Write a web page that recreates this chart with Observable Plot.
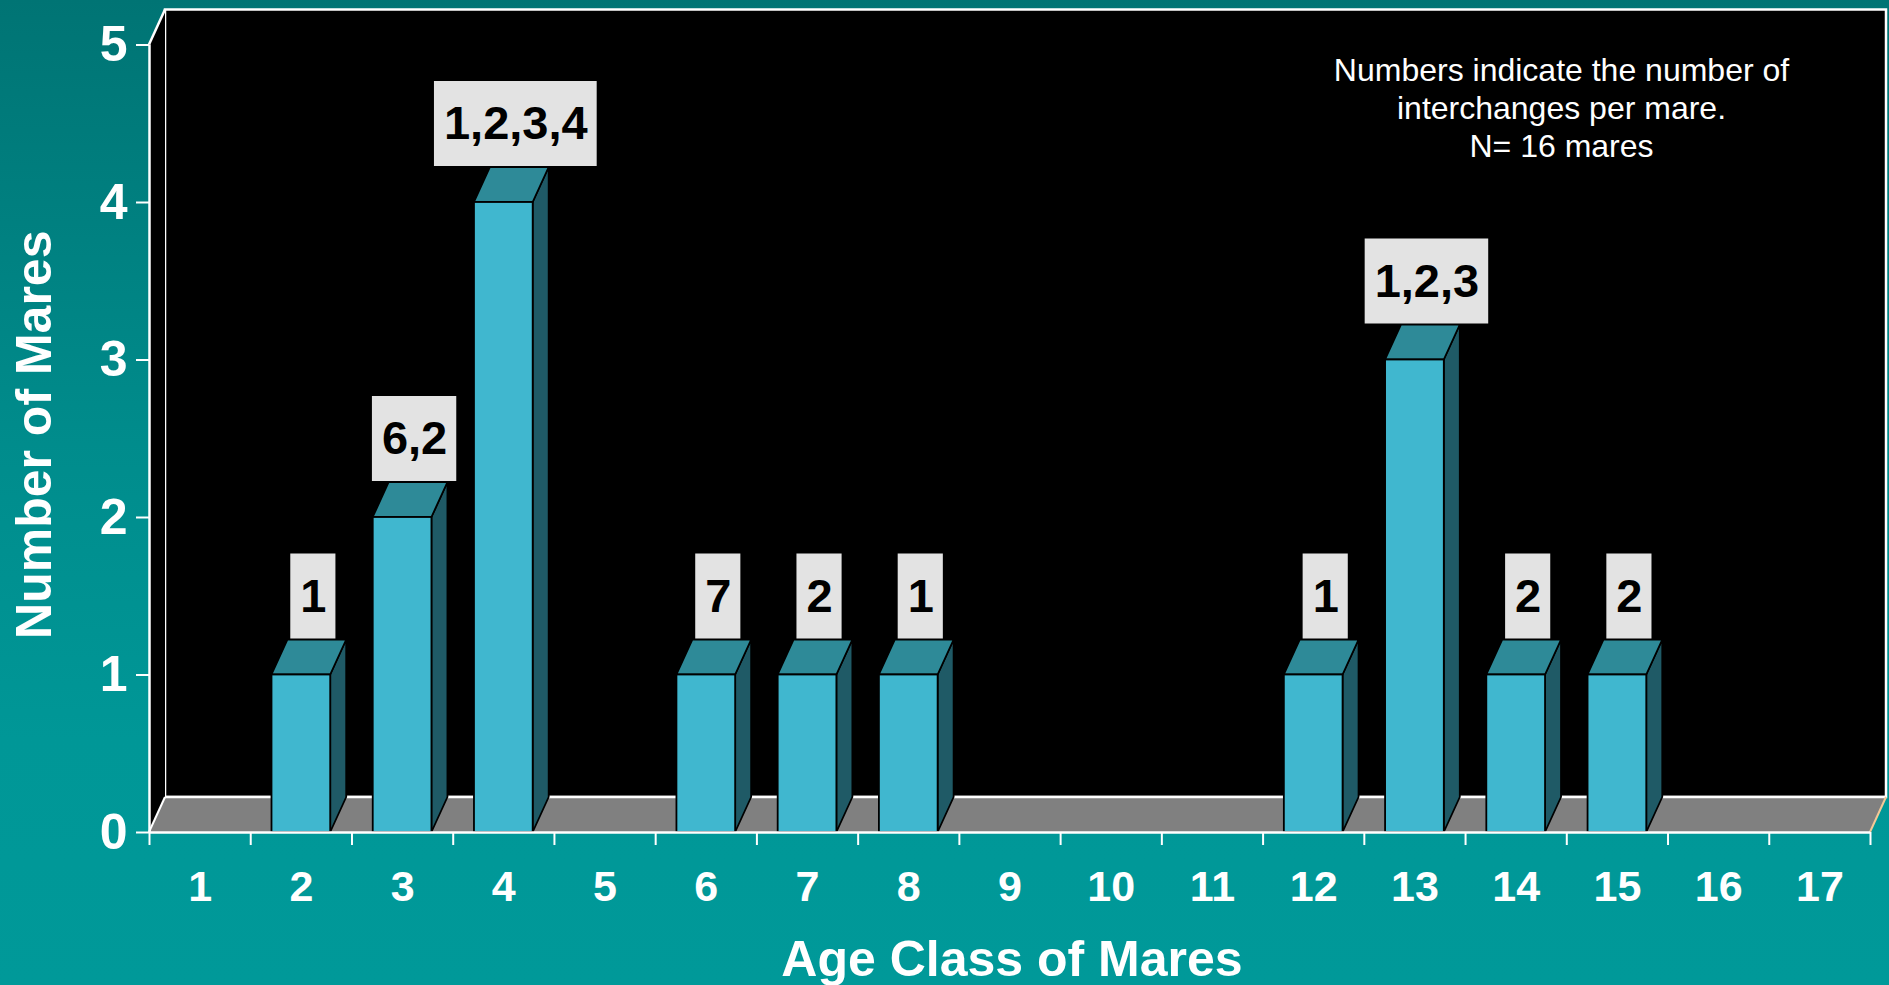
<!DOCTYPE html>
<html><head><meta charset="utf-8">
<script src="https://cdn.jsdelivr.net/npm/d3@7"></script>
<script src="https://cdn.jsdelivr.net/npm/@observablehq/plot@0.6"></script>
<style>
html,body{margin:0;padding:0;width:1889px;height:985px;overflow:hidden;
background:linear-gradient(#007474 0%, #008c8c 45%, #009797 75%, #009999 100%);}
#chart svg{display:block}
</style></head><body><div id="chart"></div>
<script>
// ---- data ----
const ageClasses = [1,2,3,4,5,6,7,8,9,10,11,12,13,14,15,16,17];
const barAges = [2,3,4,6,7,8,12,13,14,15];
const mareCounts = [1,2,4,1,1,1,1,3,1,1];
const interchangeLabels = ["1","6,2","1,2,3,4","7","2","1","1","1,2,3","2","2"];
const countTicks = [0,1,2,3,4,5];
const xTitle = "Age Class of Mares";
const yTitle = "Number of Mares";
const noteLines = ["Numbers indicate the number of","interchanges per mare.","N= 16 mares"];

// ---- style ----
const DX = 16, DY = -35, BAR = 0.58, LABEL_DX = 12;
const FONT = "'Liberation Sans', Arial, Helvetica, sans-serif";
const C = {front:"#40B7CF", side:"#1F5A66", top:"#2E8A98", floor:"#808080", box:"#E3E3E3"};

const bars = barAges.map((age, i) => ({age, count: mareCounts[i], label: interchangeLabels[i]}));
const edges = ageClasses.map(a => a - 0.5).concat([ageClasses[ageClasses.length - 1] + 0.5]);
const xDomain = [edges[0], edges[edges.length - 1]];
const yDomain = [countTicks[0], countTicks[countTicks.length - 1]];

const measure = document.createElement("canvas").getContext("2d");
measure.font = `bold 47px ${FONT}`;

const pts = a => a.map(p => p.join(",")).join(" ");

function room(index, scales) {
  const x = scales.x, y = scales.y;
  const xl = x(xDomain[0]), xr = x(xDomain[1]), yb = y(yDomain[0]), yt = y(yDomain[1]);
  const g = d3.create("svg:g");
  g.append("rect").attr("x", xl + DX).attr("y", yt + DY).attr("width", xr - xl).attr("height", yb - yt)
    .attr("fill", "#000").attr("stroke", "#fff").attr("stroke-width", 2.5);
  g.append("polygon").attr("points", pts([[xl, yt], [xl + DX, yt + DY], [xl + DX, yb + DY], [xl, yb]]))
    .attr("fill", "#000");
  g.append("line").attr("x1", xl).attr("y1", yt).attr("x2", xl + DX).attr("y2", yt + DY)
    .attr("stroke", "#fff").attr("stroke-width", 2.5);
  g.append("polygon").attr("points", pts([[xl, yb], [xr, yb], [xr + DX, yb + DY], [xl + DX, yb + DY]]))
    .attr("fill", C.floor);
  g.append("line").attr("x1", xl + DX).attr("y1", yb + DY).attr("x2", xr + DX).attr("y2", yb + DY)
    .attr("stroke", "#fff").attr("stroke-width", 2.5);
  g.append("line").attr("x1", xl).attr("y1", yb).attr("x2", xl + DX).attr("y2", yb + DY)
    .attr("stroke", "#fff").attr("stroke-width", 2);
  g.append("line").attr("x1", xr).attr("y1", yb).attr("x2", xr + DX).attr("y2", yb + DY)
    .attr("stroke", "#F5C896").attr("stroke-width", 2);
  return g.node();
}

function barDepth(index, scales) {
  const x = scales.x, y = scales.y;
  const g = d3.create("svg:g").attr("stroke", "#000").attr("stroke-width", 1.8).attr("stroke-linejoin", "round");
  for (const d of bars) {
    const x0 = x(d.age - BAR / 2), x1 = x(d.age + BAR / 2), y0 = y(0), y1 = y(d.count);
    g.append("polygon").attr("fill", C.side)
      .attr("points", pts([[x1, y0], [x1 + DX, y0 + DY], [x1 + DX, y1 + DY], [x1, y1]]));
    g.append("polygon").attr("fill", C.top)
      .attr("points", pts([[x0, y1], [x1, y1], [x1 + DX, y1 + DY], [x0 + DX, y1 + DY]]));
  }
  return g.node();
}

function labelBoxes(index, scales) {
  const x = scales.x, y = scales.y;
  const g = d3.create("svg:g");
  for (const d of bars) {
    const w = measure.measureText(d.label).width + 19, h = 85;
    const cx = x(d.age) + LABEL_DX, cy = y(d.count) - 78.5;
    g.append("rect").attr("x", cx - w / 2).attr("y", cy - h / 2).attr("width", w).attr("height", h)
      .attr("fill", C.box);
  }
  return g.node();
}

const chart = Plot.plot({
  width: 1889, height: 985,
  marginLeft: 149, marginRight: 19, marginTop: 44.5, marginBottom: 153,
  x: {type: "linear", domain: xDomain},
  y: {type: "linear", domain: yDomain},
  style: {background: "transparent", color: "white", fontFamily: FONT, overflow: "visible"},
  marks: [
    room,
    barDepth,
    Plot.rect(bars, {x1: d => d.age - BAR / 2, x2: d => d.age + BAR / 2, y1: 0, y2: "count",
      fill: C.front, stroke: "#000", strokeWidth: 1.8}),
    labelBoxes,
    Plot.text(bars, {x: "age", y: "count", text: "label", dx: LABEL_DX, dy: -78.5,
      fontSize: 47, fontWeight: "bold", fill: "#000", lineAnchor: "middle"}),
    Plot.ruleY([yDomain[0]], {stroke: "white", strokeWidth: 2.5}),
    Plot.ruleX([xDomain[0]], {stroke: "white", strokeWidth: 2.5}),
    Plot.axisY({ticks: countTicks, tickSize: 13, tickPadding: 9, strokeWidth: 2,
      fontSize: 50, fontWeight: "bold", label: null, tickFormat: d => String(d)}),
    Plot.axisX({ticks: edges, tickSize: 13, strokeWidth: 2, tickFormat: () => "", label: null}),
    Plot.axisX({ticks: ageClasses, tickSize: 0, tickPadding: 38, fontSize: 43, fontWeight: "bold",
      label: null, tickFormat: d => String(d)}),
    Plot.text([yTitle], {frameAnchor: "left", dx: -115, dy: -4, rotate: -90, fontSize: 50,
      fontWeight: "bold", fill: "white", lineAnchor: "middle", textAnchor: "middle"}),
    Plot.text([xTitle], {frameAnchor: "bottom", dx: 2, dy: 127, fontSize: 50,
      fontWeight: "bold", fill: "white", lineAnchor: "middle", textAnchor: "middle"}),
    Plot.text([noteLines.join("\n")], {frameAnchor: "top", dx: 551.5, dy: 9, lineAnchor: "top",
      lineHeight: 1.19, fontSize: 32, fill: "white", textAnchor: "middle"})
  ]
});
document.getElementById("chart").appendChild(chart);
</script>
</body></html>
